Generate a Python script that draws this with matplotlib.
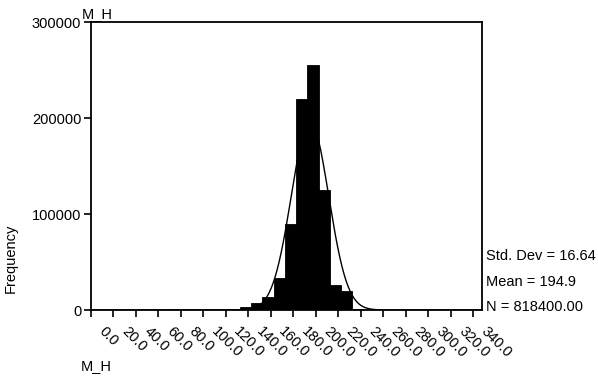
import numpy as np
import matplotlib.pyplot as plt

plt.rcParams['font.family'] = ['Liberation Sans', 'DejaVu Sans']

# bins of width 10 (left edges) and their counts
bin_left = [102.5, 112.5, 122.5, 132.5, 142.5, 152.5, 162.5, 172.5,
            182.5, 192.5, 202.5, 212.5, 222.5, 232.5, 242.5]
counts = [200, 500, 1200, 3000, 7000, 13500, 33000, 90000,
          220000, 255000, 125000, 26000, 19800, 1500, 300]
bin_width = 10

# summary statistics printed next to the chart
std_dev = 16.64
mean = 194.9
n_total = 818400

xtick_vals = list(range(0, 341, 20))
ytick_vals = [0, 100000, 200000, 300000]

fig = plt.figure(figsize=(5.98, 3.79), dpi=100)
ax = fig.add_axes([91 / 598, 69 / 379, 391 / 598, 288 / 379])

ax.bar(bin_left, counts, width=bin_width, align='edge', color='black',
       edgecolor='black', linewidth=0.6)

# fitted normal curve
xs = np.linspace(0, 348, 800)
ys = n_total * bin_width / (std_dev * np.sqrt(2 * np.pi)) * np.exp(-0.5 * ((xs - mean) / std_dev) ** 2)
ax.plot(xs, ys, color='black', linewidth=1.0)

ax.set_xlim(0, 348)
ax.set_ylim(0, 300000)

for s in ax.spines.values():
    s.set_linewidth(1.3)
    s.set_color('black')

ax.set_yticks(ytick_vals)
ax.set_yticklabels([str(v) for v in ytick_vals], fontsize=10.5)
ax.set_xticks(xtick_vals)
ax.set_xticklabels([])
ax.tick_params(direction='out', length=5, width=1.2, colors='black', pad=2)

# rotated x labels like the original
for v in xtick_vals:
    ax.annotate(f'{v:.1f}', xy=(v, 0), xycoords=('data', 'axes fraction'),
                xytext=(11, -10), textcoords='offset points',
                rotation=-45, rotation_mode='anchor', ha='left', va='top',
                fontsize=10.5)

fig.text(97 / 598, 1 - 14 / 379, 'M_H', ha='center', va='center', fontsize=10.5)
fig.text(96 / 598, 1 - 366 / 379, 'M_H', ha='center', va='center', fontsize=10.5)
fig.text(11 / 598, 1 - 258 / 379, 'Frequency', ha='center', va='center',
         rotation=90, fontsize=10.5)

fig.text(486 / 598, 1 - 256 / 379, f'Std. Dev = {std_dev:.2f}', ha='left', va='center', fontsize=10.5)
fig.text(486 / 598, 1 - 282 / 379, f'Mean = {mean:.1f}', ha='left', va='center', fontsize=10.5)
fig.text(486 / 598, 1 - 307 / 379, f'N = {n_total:.2f}', ha='left', va='center', fontsize=10.5)

fig.savefig('out.png', dpi=100)
